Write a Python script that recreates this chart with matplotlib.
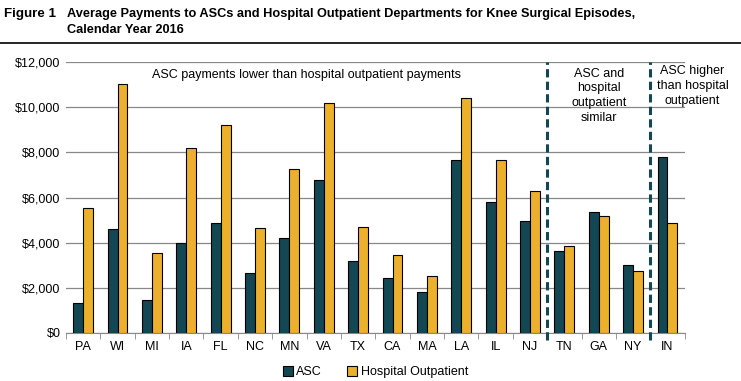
import matplotlib
matplotlib.use('Agg')
import matplotlib.pyplot as plt
from matplotlib.lines import Line2D
import numpy as np

states = ['PA', 'WI', 'MI', 'IA', 'FL', 'NC', 'MN', 'VA', 'TX', 'CA', 'MA',
          'LA', 'IL', 'NJ', 'TN', 'GA', 'NY', 'IN']
asc = [1320, 4600, 1460, 3980, 4860, 2650, 4200, 6770, 3190, 2420, 1800,
       7650, 5790, 4950, 3620, 5350, 3000, 7790]
hosp = [5530, 11020, 3550, 8190, 9210, 4640, 7260, 10180, 4680, 3440, 2510,
        10400, 7650, 6280, 3840, 5170, 2730, 4860]
yticks = [0, 2000, 4000, 6000, 8000, 10000, 12000]

asc_color = '#134753'
hosp_color = '#ECB02C'

plt.rcParams['font.family'] = ['Liberation Sans', 'DejaVu Sans']

fig = plt.figure(figsize=(7.41, 3.81), dpi=100)
ax = fig.add_axes([0.089, 0.126, 0.835, 0.711])

x = np.arange(len(states))
w = 0.29
ax.bar(x - w / 2, asc, w, color=asc_color, edgecolor='black', linewidth=0.8,
       label='ASC', zorder=3)
ax.bar(x + w / 2, hosp, w, color=hosp_color, edgecolor='black', linewidth=0.8,
       label='Hospital Outpatient', zorder=3)

ax.set_xlim(-0.5, len(states) - 0.5)
ax.set_ylim(0, 12000)
ax.set_yticks(yticks)
ax.set_yticklabels(['${:,}'.format(v) for v in yticks], fontsize=9)
ax.set_xticks(x)
ax.set_xticklabels(states, fontsize=9)
ax.set_xticks(np.arange(-0.5, len(states)), minor=True)
ax.tick_params(axis='x', which='major', length=0, pad=6)
ax.tick_params(axis='x', which='minor', length=4, color='#888888')
ax.tick_params(axis='y', length=0, pad=4)
ax.grid(axis='y', color='#888888', linewidth=0.9, zorder=0)
for s in ['top', 'right', 'left']:
    ax.spines[s].set_visible(False)
ax.spines['bottom'].set_color('#888888')

# group dividers
for xd in [13.5, 16.5]:
    ax.plot([xd, xd], [-300, 12000], color=asc_color, linestyle=(0, (2.7, 1.4)),
            linewidth=2.2, clip_on=False, zorder=4)

ax.text(6.5, 11420, 'ASC payments lower than hospital outpatient payments',
        ha='center', va='center', fontsize=9)
ax.text(15.0, 11750, 'ASC and\nhospital\noutpatient\nsimilar', ha='center',
        va='top', fontsize=9, linespacing=1.3)
ax.text(17.73, 11850, 'ASC higher\nthan hospital\noutpatient', ha='center',
        va='top', fontsize=9, linespacing=1.3, clip_on=False)

ax.legend(loc='center', bbox_to_anchor=(0.5, -0.145), ncol=2,
          frameon=False, fontsize=9, handlelength=0.8, handleheight=0.8,
          columnspacing=2.0, handletextpad=0.3)

fig.text(0.006, 0.964, 'Figure 1', fontsize=9.6, fontweight='bold',
         va='center', ha='left')
fig.text(0.09, 0.964,
         'Average Payments to ASCs and Hospital Outpatient Departments for Knee Surgical Episodes,',
         fontsize=9.2, fontweight='bold', va='center', ha='left')
fig.text(0.09, 0.92, 'Calendar Year 2016', fontsize=9.2, fontweight='bold',
         va='center', ha='left')
fig.add_artist(Line2D([0, 1], [0.887, 0.887], color='black', linewidth=1.2))

fig.savefig('out.png', dpi=100)
